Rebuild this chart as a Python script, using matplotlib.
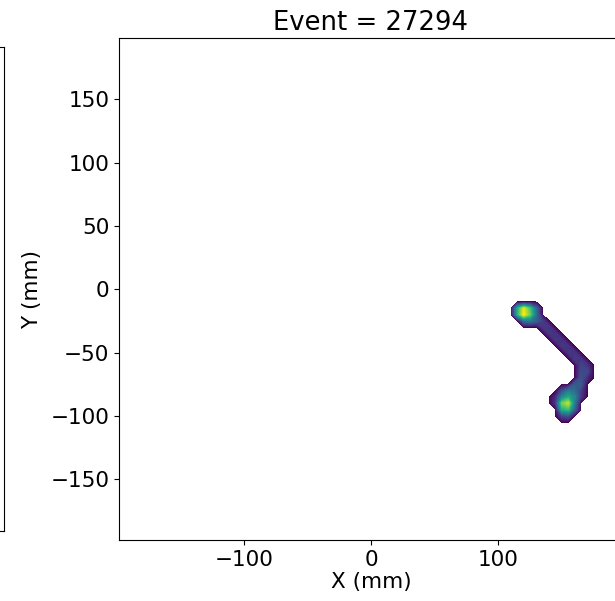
import numpy as np
import matplotlib
matplotlib.use("Agg")
import matplotlib.pyplot as plt

# hit cells (mm) on a 5 mm pad grid, relative charge
pad_x = [115, 120, 125, 130, 115, 120, 125, 130, 120, 125, 130,
         135, 135, 140, 140, 145, 145, 150, 150, 155, 155, 160, 160, 165, 165,
         170, 165, 170, 165, 170, 160, 165, 170,
         150, 155, 160, 165, 145, 150, 155, 160, 165, 145, 150, 155, 160,
         150, 155, 160, 150, 155]
pad_y = [-15, -15, -15, -15, -20, -20, -20, -20, -25, -25, -25,
         -25, -30, -30, -35, -35, -40, -40, -45, -45, -50, -50, -55, -55, -60,
         -60, -65, -65, -70, -70, -75, -75, -70,
         -80, -80, -80, -80, -85, -85, -85, -85, -85, -90, -90, -90, -90,
         -95, -95, -95, -100, -100]
pad_q = [0.60, 0.95, 0.70, 0.30, 0.60, 1.00, 0.75, 0.35, 0.35, 0.40, 0.30,
         0.18, 0.16, 0.16, 0.16, 0.15, 0.16, 0.15, 0.16, 0.15, 0.16, 0.15, 0.17, 0.15, 0.20,
         0.15, 0.22, 0.22, 0.25, 0.22, 0.28, 0.28, 0.12,
         0.22, 0.40, 0.35, 0.18, 0.12, 0.45, 0.60, 0.45, 0.15, 0.15, 0.78, 0.90, 0.40,
         0.62, 0.68, 0.30, 0.20, 0.25]

event_id = 27294
lim = 198

plt.rcParams["font.size"] = 15.5

fig = plt.figure(figsize=(6.15, 6.01), dpi=100)

# neighbouring panel, only its right edge is visible
ax0 = fig.add_axes([-0.5, 0.1165, 0.5065, 0.8055])
ax0.set_xticks([])
ax0.set_yticks([])

ax = fig.add_axes([0.1935, 0.1015, 0.8195, 0.8345])

grid = np.arange(-200, 201, 5)
Z = np.zeros((len(grid), len(grid)))
for x, y, q in zip(pad_x, pad_y, pad_q):
    i = np.searchsorted(grid, y)
    j = np.searchsorted(grid, x)
    Z[i, j] = q
levels = np.linspace(0.005, 1.0, 100)
ax.contourf(grid, grid, Z, levels=levels, cmap="viridis")

ax.set_xlim(-lim, lim)
ax.set_ylim(-lim, lim)
ax.set_xticks([-100, 0, 100])
ax.set_yticks([-150, -100, -50, 0, 50, 100, 150])
ax.set_xlabel("X (mm)", labelpad=2)
ax.set_ylabel("Y (mm)", labelpad=6)
ax.set_title(f"Event = {event_id}", fontsize=18.6, pad=6)

fig.savefig("out.png", dpi=100)
